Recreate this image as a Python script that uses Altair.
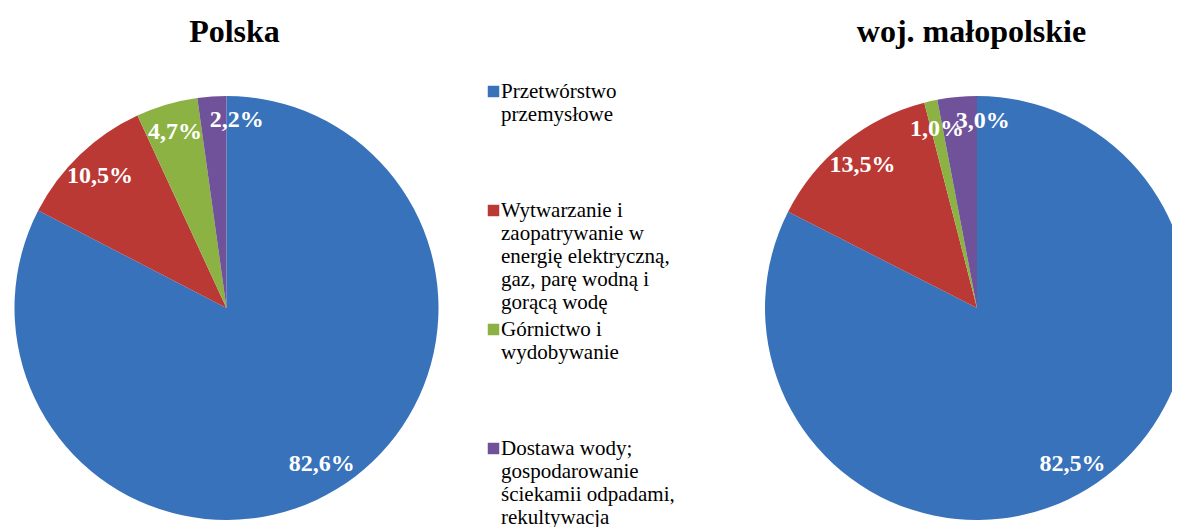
import altair as alt
import pandas as pd

CATEGORIES = [
    "Przetwórstwo przemysłowe",
    "Wytwarzanie i zaopatrywanie w energię elektryczną, gaz, parę wodną i gorącą wodę",
    "Górnictwo i wydobywanie",
    "Dostawa wody; gospodarowanie ściekamii odpadami, rekultywacja",
]
LEGEND_LINES = [
    ["Przetwórstwo", "przemysłowe"],
    ["Wytwarzanie i", "zaopatrywanie w", "energię elektryczną,", "gaz, parę wodną i", "gorącą wodę"],
    ["Górnictwo i", "wydobywanie"],
    ["Dostawa wody;", "gospodarowanie", "ściekamii odpadami,", "rekultywacja"],
]
COLORS = ["#3872BB", "#BA3935", "#8DB244", "#70529A"]

TITLES = ["Polska", "woj. małopolskie"]
POLSKA = [82.6, 10.5, 4.7, 2.2]
MALOPOLSKIE = [82.5, 13.5, 1.0, 3.0]

KEYS = ["|".join(lines) for lines in LEGEND_LINES]
FONT = "Liberation Serif"


def make_df(values):
    return pd.DataFrame({
        "key": KEYS,
        "idx": list(range(len(KEYS))),
        "value": values,
        "label": [f"{v:.1f}".replace(".", ",") + "%" for v in values],
    })


legend = alt.Legend(
    title=None,
    orient="none",
    legendX=475,
    legendY=-15,
    padding=0,
    symbolType="square",
    symbolSize=132,
    symbolStrokeWidth=0,
    symbolOpacity=1,
    labelExpr="split(datum.label, '|')",
    labelFont=FONT,
    labelFontSize=21,
    labelColor="black",
    labelBaseline="middle",
    labelOffset={"expr": "-3"},
    labelLimit=400,
    gridAlign="all",
    rowPadding=5,
)

color = alt.Color("key:N", scale=alt.Scale(domain=KEYS, range=COLORS), legend=legend)


def pie(values, title, width, dx, left_aligned):
    pos = {"x": {"expr": "height / 2"}} if left_aligned else {}
    base = alt.Chart(make_df(values))
    arcs = base.mark_arc(outerRadius=212, clip=left_aligned, **pos).encode(
        theta=alt.Theta("value:Q", stack=True),
        order=alt.Order("idx:Q", sort="ascending"),
        color=color,
    )
    labels = base.transform_window(
        cum="sum(value)", sort=[alt.SortField("idx", order="ascending")]
    ).transform_calculate(mid="datum.cum - datum.value / 2")
    text_style = dict(radius=183, font=FONT, fontSize=24, fontWeight="bold", color="white", **pos)
    text_main = labels.transform_filter("datum.idx < 3").mark_text(**text_style).encode(
        theta=alt.Theta("mid:Q", stack=None), text="label:N"
    )
    text_last = labels.transform_filter("datum.idx == 3").mark_text(
        dx=23, dy=-5, **text_style
    ).encode(theta=alt.Theta("mid:Q", stack=None), text="label:N")
    return alt.layer(arcs, text_main, text_last).properties(
        width=width,
        height=424,
        title=alt.TitleParams(
            title, font=FONT, fontSize=32, fontWeight="bold", color="black",
            anchor="middle", baseline="alphabetic", offset=22, dx=dx,
        ),
    )


chart = alt.hconcat(
    pie(POLSKA, TITLES[0], 437, 8, False),
    pie(MALOPOLSKIE, TITLES[1], 407, 3, True),
    spacing=320,
).properties(
    padding={"left": 0, "top": 8, "right": 0, "bottom": 0},
).configure_view(stroke=None)

chart.save("out.html", embed_options={"renderer": "svg", "actions": False})
